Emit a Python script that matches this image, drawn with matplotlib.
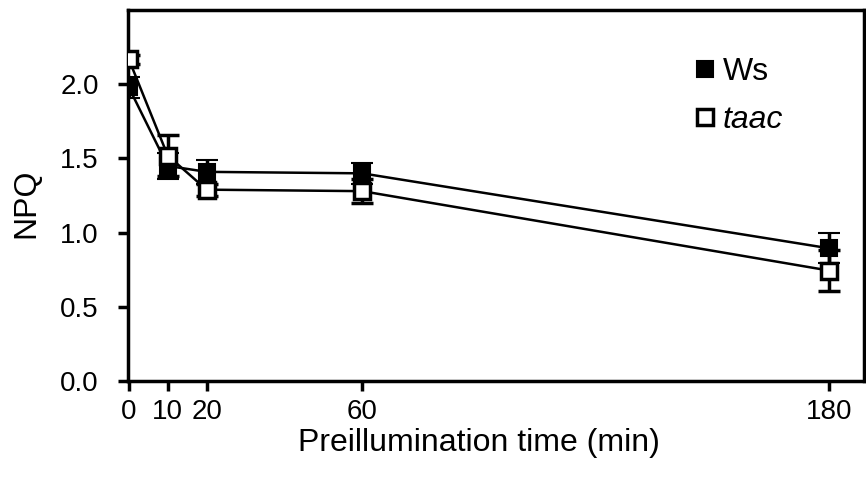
import matplotlib.pyplot as plt

# Preillumination time (min) and NPQ values
time_min = [0, 10, 20, 60, 180]
ws_npq = [1.98, 1.45, 1.41, 1.40, 0.895]
ws_err = [0.07, 0.09, 0.08, 0.07, 0.10]
taac_npq = [2.17, 1.52, 1.29, 1.28, 0.745]
taac_err = [0.03, 0.14, 0.04, 0.08, 0.14]
x_ticks = [0, 10, 20, 60, 180]
y_ticks = [0.0, 0.5, 1.0, 1.5, 2.0]

plt.rcParams['font.family'] = ['Liberation Sans', 'DejaVu Sans']

fig = plt.figure(figsize=(8.66, 4.8), dpi=100)
ax = fig.add_axes([0.1478, 0.206, 0.85, 0.773])

# Wild type
ax.errorbar(time_min, ws_npq, yerr=ws_err, color='black', linewidth=1.8,
            marker='s', markersize=12, markerfacecolor='black',
            markeredgecolor='black', markeredgewidth=1.5,
            capsize=8, capthick=2.5, elinewidth=2.5, label='Ws', zorder=3)
# mutant
ax.errorbar(time_min, taac_npq, yerr=taac_err, color='black', linewidth=1.8,
            marker='s', markersize=12, markerfacecolor='white',
            markeredgecolor='black', markeredgewidth=2.5,
            capsize=8, capthick=2.5, elinewidth=2.5, label='taac', zorder=4)

ax.set_xlim(-0.2, 189)
ax.set_ylim(0, 2.5)
ax.set_xticks(x_ticks)
ax.set_yticks(y_ticks)
ax.set_yticklabels(['%.1f' % v for v in y_ticks])
ax.tick_params(direction='out', length=7, width=2.5, labelsize=20)
ax.tick_params(axis='y', pad=14)
ax.tick_params(axis='x', pad=6)

for s in ax.spines.values():
    s.set_linewidth(2.5)

ax.set_xlabel('Preillumination time (min)', fontsize=23)
ax.set_ylabel('NPQ', fontsize=23)
# label positions in axes coords (label centre slightly off axes centre)
ax.xaxis.set_label_coords(0.477, -0.168)
ax.yaxis.set_label_coords(-0.138, 0.48)
ax.xaxis.label.set_verticalalignment('center')
ax.yaxis.label.set_verticalalignment('center')

# legend with markers only
handles, labels = ax.get_legend_handles_labels()
hs = [h[0] for h in handles]
leg = ax.legend(hs, labels, loc='upper left', bbox_to_anchor=(0.732, 0.95),
                frameon=False, fontsize=23, handlelength=0.6,
                handletextpad=0.25, labelspacing=0.55)
leg.get_texts()[1].set_style('italic')
for h in leg.legend_handles:
    h.set_linestyle('None')

fig.savefig('out.png', dpi=100)
